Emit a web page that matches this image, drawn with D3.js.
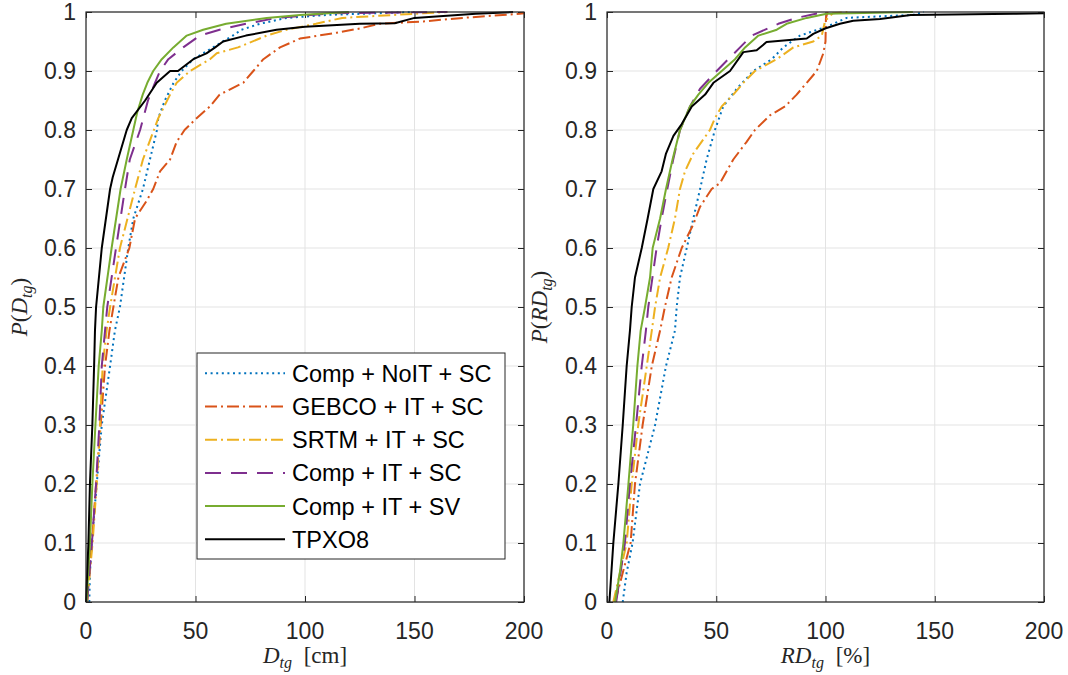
<!DOCTYPE html>
<html><head><meta charset="utf-8">
<script src="https://cdn.jsdelivr.net/npm/d3@7"></script>
<style>body{margin:0;background:#fff}svg{display:block}</style>
</head><body>
<svg id="c" width="1068" height="675"></svg>
<script>
// ---------- DATA ----------
const seriesNames = ["Comp + NoIT + SC","GEBCO + IT + SC","SRTM + IT + SC","Comp + IT + SC","Comp + IT + SV","TPXO8"];
const seriesColors = ["#0072BD","#D95319","#EDB120","#7E2F8E","#77AC30","#000000"];
const seriesDash = ["2,3.6","12,4,2,4","12,4,2,4","16,10",null,null];
const xTicks = [0,50,100,150,200];
const xTickLabels = ["0","50","100","150","200"];
const yTicks = [0,0.1,0.2,0.3,0.4,0.5,0.6,0.7,0.8,0.9,1];
const yTickLabels = ["0","0.1","0.2","0.3","0.4","0.5","0.6","0.7","0.8","0.9","1"];

// Left panel: D_tg [cm]  -> [value, cumulative probability]
const dCompNoIT = [[1.5,0],[1.8,0.05],[2.6,0.1],[4.9,0.2],[7.2,0.3],[11,0.4],[13.2,0.46],[15.5,0.5],[19.3,0.6],[21.6,0.65],[26,0.7],[29.2,0.75],[32.4,0.8],[33,0.82],[36,0.85],[40,0.88],[43.7,0.9],[49,0.92],[58,0.94],[67,0.96],[71,0.97],[79.4,0.98],[91.6,0.99],[110,0.995],[150,1]];
const dGebco = [[0.5,0],[2.7,0.1],[4.6,0.2],[6.7,0.3],[8.7,0.4],[10.7,0.46],[12.5,0.5],[14.8,0.55],[19.8,0.6],[22.4,0.65],[27.7,0.68],[30.7,0.7],[33.8,0.73],[38.4,0.75],[41.4,0.78],[45,0.8],[50.5,0.82],[56.6,0.84],[61,0.86],[71.8,0.88],[76.4,0.9],[81,0.92],[88.6,0.94],[97.7,0.955],[114.5,0.965],[125,0.972],[134,0.98],[154,0.984],[172,0.99],[198,0.997],[200,0.998]];
const dSrtm = [[0.5,0],[3,0.1],[4.9,0.2],[6.4,0.3],[7.6,0.4],[9.4,0.46],[11,0.5],[15.5,0.6],[22.4,0.7],[26,0.75],[31,0.8],[33,0.82],[38.4,0.86],[41.4,0.88],[47.5,0.9],[56.6,0.92],[59.7,0.93],[69.4,0.94],[82.5,0.96],[91.6,0.97],[105,0.98],[117,0.99],[150,0.997],[165,1]];
const dCompSC = [[0.5,0],[2.7,0.1],[4.6,0.2],[6.1,0.3],[7.2,0.4],[8.7,0.46],[9.7,0.5],[13.7,0.6],[17.8,0.7],[20,0.75],[24.7,0.8],[28.3,0.85],[31.5,0.88],[33.8,0.9],[37.6,0.92],[44.4,0.94],[52,0.96],[61,0.97],[73,0.98],[87,0.99],[113,0.998],[165,1]];
const dCompSV = [[0.3,0],[1,0.05],[1.8,0.1],[2.9,0.2],[4.3,0.3],[5.8,0.4],[7.2,0.46],[7.9,0.5],[11.7,0.6],[15.8,0.7],[18.6,0.75],[21.6,0.8],[23.4,0.83],[25.9,0.86],[28,0.88],[30.7,0.9],[34.6,0.92],[39.9,0.94],[46,0.96],[53.5,0.97],[64,0.98],[82.5,0.99],[97.7,0.995],[120,1]];
const dTpxo = [[0,0],[1.1,0.1],[1.8,0.2],[2.9,0.3],[3.7,0.4],[4.1,0.46],[4.6,0.5],[7.2,0.6],[11,0.7],[12.2,0.72],[14.6,0.75],[18.6,0.8],[20.9,0.82],[27,0.85],[32.3,0.88],[38.4,0.9],[42,0.9],[49,0.92],[55,0.93],[59,0.94],[62.6,0.95],[73,0.96],[87,0.97],[100,0.975],[125,0.98],[141,0.981],[150,0.99],[178,0.997],[195,1]];

// Right panel: RD_tg [%]
const rdCompNoIT = [[7.2,0],[9,0.05],[11.7,0.1],[15.1,0.2],[22,0.3],[27,0.4],[31.1,0.46],[31.9,0.5],[33.4,0.55],[36.5,0.6],[39.5,0.65],[42.6,0.7],[45.6,0.75],[49.4,0.8],[53.2,0.84],[59.4,0.87],[67,0.9],[75.4,0.92],[80.7,0.94],[88.3,0.96],[100.5,0.975],[109.7,0.99],[140,0.995],[145,1]];
const rdGebco = [[3.7,0],[10.8,0.1],[12.8,0.2],[16.3,0.3],[20.5,0.4],[24.3,0.46],[26.5,0.5],[29.6,0.55],[34.2,0.6],[39.5,0.64],[42.6,0.67],[47.9,0.7],[51.7,0.71],[57.8,0.75],[63.9,0.78],[67.7,0.8],[74.6,0.825],[81.5,0.84],[86.8,0.86],[91.4,0.88],[96,0.9],[99,0.93],[100,0.95],[100.2,0.99],[101,1]];
const rdSrtm = [[2.9,0],[9,0.1],[11.3,0.2],[14.3,0.3],[18.2,0.4],[20.5,0.46],[22,0.5],[24.3,0.55],[28,0.6],[31.1,0.65],[33.4,0.7],[35.7,0.73],[39.5,0.76],[47.1,0.8],[49.4,0.82],[52.5,0.84],[57.8,0.86],[62.4,0.88],[67.7,0.9],[77.7,0.92],[85.3,0.94],[94.4,0.95],[98.3,0.96],[99.8,0.985],[103.4,0.998],[110,1]];
const rdCompSC = [[4.2,0],[8.2,0.1],[10.5,0.2],[13.3,0.3],[15.9,0.4],[17.8,0.46],[18.9,0.5],[22.7,0.6],[25,0.65],[27.6,0.7],[30.3,0.75],[33.4,0.8],[38,0.84],[42.6,0.87],[50.2,0.9],[55.5,0.92],[60.9,0.94],[66.2,0.96],[78.4,0.98],[86.8,0.99],[99,1]];
const rdCompSV = [[3.7,0],[5.9,0.05],[7.5,0.1],[9.8,0.2],[12,0.3],[13.9,0.4],[15.4,0.46],[17.4,0.5],[19.7,0.55],[20.9,0.6],[24.3,0.65],[27,0.7],[30,0.75],[33.4,0.8],[38,0.84],[41.8,0.86],[46.4,0.88],[52.5,0.9],[58.6,0.92],[63.2,0.94],[69.3,0.96],[77.7,0.97],[82.2,0.98],[91.4,0.99],[100.5,0.997],[140,1]];
const rdTpxo = [[1.1,0],[2.9,0.1],[5.2,0.2],[7.2,0.3],[9,0.4],[10.5,0.46],[11.3,0.5],[12.8,0.55],[15.9,0.6],[18.6,0.65],[21.2,0.7],[25,0.73],[27,0.76],[30.4,0.79],[34.2,0.81],[38.8,0.84],[44.9,0.86],[48.7,0.88],[56.3,0.9],[62.4,0.932],[68.5,0.935],[73,0.949],[91.4,0.955],[94.4,0.963],[99.8,0.972],[106.6,0.98],[112.7,0.985],[125,0.988],[139,0.995],[186,0.997],[200,0.998]];

// ---------- DRAW ----------
const svg = d3.select("#c");
const axisColor = "#262626";
const gridColor = "#e3e3e3";
const plotTop = 12, plotBottom = 602;
const tickFont = "'Liberation Sans', Arial, sans-serif";
const serif = "'Liberation Serif', 'Times New Roman', serif";

const panels = [
  {x0:86, x1:524, series:[dCompNoIT,dGebco,dSrtm,dCompSC,dCompSV,dTpxo], xl:["D","tg"," [cm]"], yl:["D","tg"], ylx:27},
  {x0:607, x1:1044, series:[rdCompNoIT,rdGebco,rdSrtm,rdCompSC,rdCompSV,rdTpxo], xl:["RD","tg"," [%]"], yl:["RD","tg"], ylx:547}
];

const y = d3.scaleLinear().domain([0,1]).range([plotBottom, plotTop]);

panels.forEach((P, pi) => {
  const x = d3.scaleLinear().domain([0,200]).range([P.x0, P.x1]);
  const g = svg.append("g");
  // grid
  g.append("g").selectAll("line").data(xTicks).join("line")
    .attr("x1", d=>x(d)).attr("x2", d=>x(d)).attr("y1", plotTop).attr("y2", plotBottom)
    .attr("stroke", gridColor).attr("stroke-width", 1);
  g.append("g").selectAll("line").data(yTicks).join("line")
    .attr("x1", P.x0).attr("x2", P.x1).attr("y1", d=>y(d)).attr("y2", d=>y(d))
    .attr("stroke", gridColor).attr("stroke-width", 1);

  // axes (inward ticks)
  const ax = g.append("g").attr("transform", `translate(0,${plotBottom})`)
    .call(d3.axisTop(x).tickValues(xTicks).tickSize(6).tickFormat(""));
  const axT = g.append("g").attr("transform", `translate(0,${plotTop})`)
    .call(d3.axisBottom(x).tickValues(xTicks).tickSize(6).tickFormat(""));
  const ay = g.append("g").attr("transform", `translate(${P.x0},0)`)
    .call(d3.axisRight(y).tickValues(yTicks).tickSize(6).tickFormat(""));
  const ayR = g.append("g").attr("transform", `translate(${P.x1},0)`)
    .call(d3.axisLeft(y).tickValues(yTicks).tickSize(6).tickFormat(""));
  [ax,axT,ay,ayR].forEach(a => {
    a.select(".domain").remove();
    a.selectAll("line").attr("stroke", axisColor).attr("stroke-width", 1);
  });

  // tick labels
  g.append("g").selectAll("text").data(xTicks).join("text")
    .attr("x", d=>x(d)).attr("y", plotBottom+37).attr("text-anchor","middle")
    .attr("font-family", tickFont).attr("font-size", 23).attr("fill", axisColor)
    .text((d,i)=>xTickLabels[i]);
  g.append("g").selectAll("text").data(yTicks).join("text")
    .attr("x", P.x0-10).attr("y", d=>y(d)+8).attr("text-anchor","end")
    .attr("font-family", tickFont).attr("font-size", 23).attr("fill", axisColor)
    .text((d,i)=>yTickLabels[i]);

  // curves
  const line = d3.line().x(d=>x(d[0])).y(d=>y(d[1]));
  P.series.forEach((s, i) => {
    g.append("path").datum(s).attr("d", line)
      .attr("fill","none").attr("stroke", seriesColors[i]).attr("stroke-width", 2)
      .attr("stroke-dasharray", seriesDash[i])
      .attr("stroke-linejoin","round");
  });

  // box
  g.append("rect").attr("x", P.x0).attr("y", plotTop).attr("width", P.x1-P.x0).attr("height", plotBottom-plotTop)
    .attr("fill","none").attr("stroke", axisColor).attr("stroke-width", 1.2);

  // x label
  const xt = g.append("text").attr("x", (P.x0+P.x1)/2).attr("y", 663).attr("text-anchor","middle")
    .attr("font-family", serif).attr("font-size", 23).attr("fill", axisColor);
  xt.append("tspan").attr("font-style","italic").text(P.xl[0]);
  xt.append("tspan").attr("font-style","italic").attr("font-size",16).attr("dy",5).text(P.xl[1]);
  xt.append("tspan").attr("dy",-5).attr("dx",6).text(P.xl[2]);

  // y label
  const yt = g.append("text").attr("transform", `translate(${P.ylx},${(plotTop+plotBottom)/2}) rotate(-90)`)
    .attr("text-anchor","middle").attr("font-family", serif).attr("font-size", 23).attr("fill", axisColor);
  yt.append("tspan").attr("font-style","italic").text("P");
  yt.append("tspan").text("(");
  yt.append("tspan").attr("font-style","italic").text(P.yl[0]);
  yt.append("tspan").attr("font-style","italic").attr("font-size",16).attr("dy",5).text(P.yl[1]);
  yt.append("tspan").attr("dy",-5).text(")");
});

// legend
const lg = svg.append("g");
lg.append("rect").attr("x",197).attr("y",353).attr("width",308).attr("height",206)
  .attr("fill","#fff").attr("stroke",axisColor).attr("stroke-width",1);
const rowY = i => 373.3 + i*33.2;
seriesNames.forEach((n,i) => {
  lg.append("line").attr("x1",205).attr("x2",285).attr("y1",rowY(i)).attr("y2",rowY(i))
    .attr("stroke",seriesColors[i]).attr("stroke-width",2).attr("stroke-dasharray",seriesDash[i]);
  lg.append("text").attr("x",292).attr("y",rowY(i)+8.5).attr("font-family",tickFont)
    .attr("font-size",23.5).attr("fill","#000").text(n);
});
</script>
</body></html>
